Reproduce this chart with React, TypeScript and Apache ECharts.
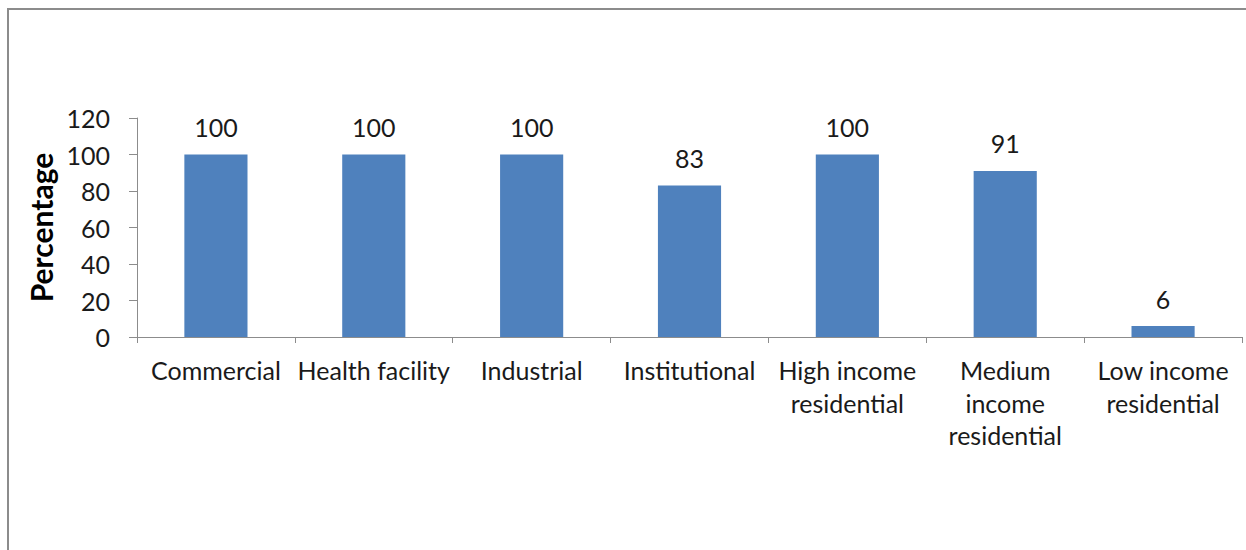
import React, { useEffect, useRef } from "react";
import * as echarts from "echarts";

const categories = [
  "Commercial",
  "Health facility",
  "Industrial",
  "Institutional",
  "High income\nresidential",
  "Medium\nincome\nresidential",
  "Low income\nresidential",
];
const values = [100, 100, 100, 83, 100, 91, 6];
const yAxisTitle = "Percentage";

const FONT = "Lato, 'Open Sans', sans-serif";

export default function App() {
  const ref = useRef<HTMLDivElement>(null);
  useEffect(() => {
    document.body.style.margin = "0";
    const chart = echarts.init(ref.current!, null, { renderer: "svg" });
    chart.setOption({
      animation: false,
      backgroundColor: "#ffffff",
      graphic: [
        {
          type: "rect",
          shape: { x: 8, y: 9, width: 1300, height: 600 },
          style: { fill: "none", stroke: "#8c8c8c", lineWidth: 2 },
          silent: true,
        },
      ],
      grid: { left: 137, top: 118, right: 4, bottom: 213, containLabel: false },
      xAxis: {
        type: "category",
        data: categories,
        axisLine: { lineStyle: { color: "#8c8c8c", width: 1 } },
        axisTick: { show: true, alignWithLabel: false, length: 6, lineStyle: { color: "#8c8c8c" } },
        axisLabel: {
          interval: 0,
          color: "#1a1a1a",
          fontFamily: FONT,
          fontSize: 25,
          lineHeight: 32.5,
          margin: 17,
        },
      },
      yAxis: {
        type: "value",
        min: 0,
        max: 120,
        interval: 20,
        name: yAxisTitle,
        nameLocation: "middle",
        nameGap: 80,
        nameRotate: 90,
        nameTextStyle: { fontFamily: FONT, fontSize: 30, fontWeight: "bold", color: "#000" },
        axisLine: { show: true, lineStyle: { color: "#8c8c8c", width: 1 } },
        axisTick: { show: true, length: 8, lineStyle: { color: "#8c8c8c" } },
        splitLine: { show: false },
        axisLabel: { color: "#1a1a1a", fontFamily: FONT, fontSize: 25, margin: 27 },
      },
      series: [
        {
          type: "bar",
          data: values,
          barWidth: "40%",
          itemStyle: { color: "#4F81BD" },
          label: {
            show: true,
            position: "top",
            distance: 15,
            color: "#1a1a1a",
            fontFamily: FONT,
            fontSize: 25,
          },
        },
      ],
    });
    return () => chart.dispose();
  }, []);
  return <div ref={ref} style={{ width: 1246, height: 550 }} />;
}
